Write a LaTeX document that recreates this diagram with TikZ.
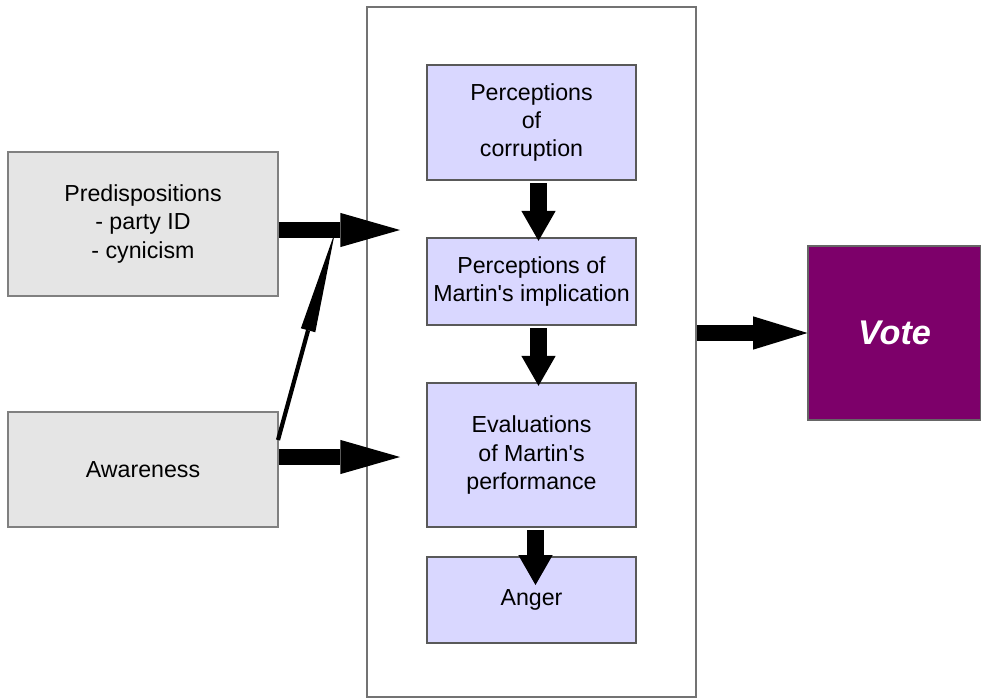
\documentclass[tikz,border=0pt]{standalone}
\usepackage{fontspec}
\setmainfont{Liberation Sans}
\usetikzlibrary{arrows.meta}

\begin{document}
\begin{tikzpicture}[x=0.02cm,y=-0.02cm,
			font=\fontsize{13.2}{16}\selectfont,
			greybox/.style={draw=black!50,line width=0.8pt,fill=black!10,align=center,inner sep=0pt},
			inbox/.style={draw=black!65,line width=0.8pt,fill={rgb,255:red,217;green,215;blue,255},align=center,minimum width=4.18cm,inner sep=0pt},
			fat/.style={line width=9.2pt,-{Triangle[length=34pt,width=19.5pt,line width=0pt]}},
			fatdown/.style={line width=9.4pt,-{Triangle[length=17pt,width=19.5pt,line width=0pt]}},
			thin/.style={line width=2.4pt,-{Triangle[length=58pt,width=8.5pt,line width=0pt]}}]
			\useasboundingbox (0,0) rectangle (981,700);
			\fill[white] (0,0) rectangle (981,700);
			% outer frame
			\node[draw=black!55,line width=0.9pt,minimum width=6.58cm,minimum height=13.8cm] (frame) at (531.5,352) {};
			% inputs
			\node[greybox,minimum width=5.4cm,minimum height=2.88cm] (pred) at (143,224) {Predispositions\\- party ID\\- cynicism};
			\node[greybox,minimum width=5.4cm,minimum height=2.3cm] (aware) at (143,469.5) {Awareness};
			% inside the frame
			\node[inbox,minimum height=2.3cm] (corr) at (531.5,122.5) {Perceptions\\of\\corruption};
			\node[inbox,minimum height=1.74cm] (impl) at (531.5,281.5) {Perceptions of\\Martin\textquotesingle s implication};
			\node[inbox,minimum height=2.88cm] (eval) at (531.5,455) {Evaluations\\of Martin\textquotesingle s\\performance};
			\node[inbox,minimum height=1.72cm] (anger) at (531.5,600) {Anger};
			% outcome
			\node[fill={rgb,255:red,125;green,0;blue,106},draw=black!60,line width=0.6pt,minimum width=3.46cm,minimum height=3.48cm,
				text=white,font=\fontsize{19.5}{22}\selectfont\bfseries\itshape] (vote) at (894.5,333) {Vote};
			% arrows
			\coordinate (in1) at (400,230);
			\coordinate (in2) at (400,457);
			\coordinate (join) at (335,232);
			\coordinate (start) at (278,440);
			\coordinate (down3) at (535.5,585);
			\draw[fat] (pred.east |- in1) -- (in1);
			\draw[fat] (aware.east |- in2) -- (in2);
			\draw[thin] (start) -- (join);
			\draw[fatdown,shorten <=1.5pt] ([xshift=4]corr.south) -- ([xshift=4,yshift=-2pt]impl.north);
			\draw[fatdown,shorten <=1.5pt] ([xshift=4]impl.south) -- ([xshift=4,yshift=-2pt]eval.north);
			\draw[fatdown,shorten <=1.5pt] (eval.south -| down3) -- (down3);
			\draw[fat,-{Triangle[length=31pt,width=19pt,line width=0pt]}] (frame.east |- vote.west) -- (vote.west);
\end{tikzpicture}
\end{document}
